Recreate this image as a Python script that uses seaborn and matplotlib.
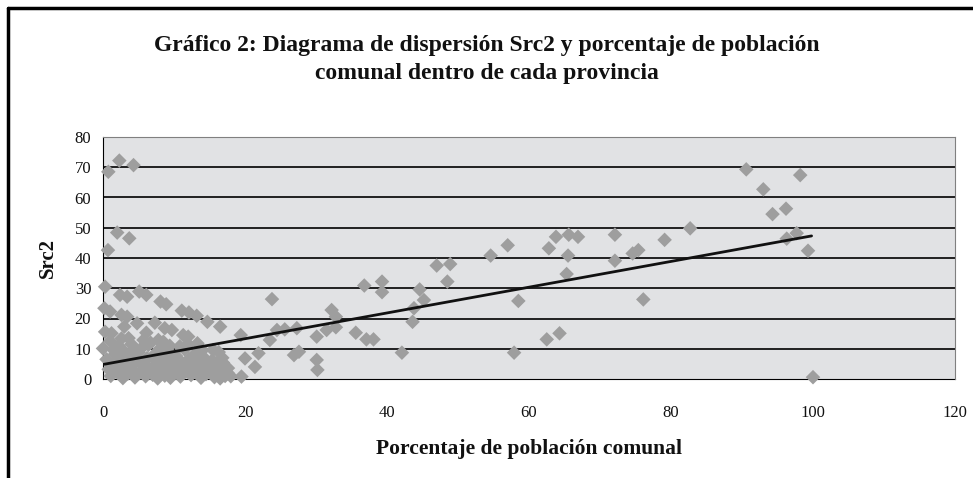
import pandas as pd
import seaborn as sns
import matplotlib.pyplot as plt
from matplotlib.lines import Line2D

# Porcentaje de poblacion comunal (x) y Src2 (y)
pct_comunal = [
    0.75, 2.3, 4.3, 0.7, 2.0, 3.7,
    0.3, 2.4, 3.4, 5.1, 6.1, 8.1, 8.9,
    0.2, 1.0, 2.6, 3.4, 11.1, 12.1, 13.2, 14.7, 16.5,
    23.8, 0.3, 1.2, 3.0, 2.6, 4.8, 7.3, 8.7, 9.7, 11.3, 12.0, 19.4,
    0.0, 1.5, 6.1, 5.7, 7.8, 8.5, 13.3, 15.5,
    20.0, 21.4, 21.9, 23.5, 24.5, 25.6, 27.3, 26.9, 27.6, 30.1, 30.1, 30.2, 31.5,
    19.5, 16.5, 17.6,
    32.2, 32.8, 32.8, 35.6, 36.8, 37.1, 38.1, 39.3, 39.3, 42.1, 43.6, 43.8, 44.6,
    45.2, 47.0, 48.9, 48.5, 54.6, 57.0, 57.9, 58.5, 62.8, 63.8, 62.5, 64.3, 65.6,
    66.9, 65.5, 65.3, 72.1, 72.1, 74.6, 75.4, 76.1, 79.1, 82.7, 90.6, 93.0, 94.3,
    96.2, 96.3, 97.7, 98.2, 99.3, 100.0,
    0.5, 0.8, 1.1, 1.4, 1.7, 2.0, 2.2, 2.5, 2.8, 3.0, 3.2, 3.5, 3.7, 4.0, 4.2,
    4.5, 4.7, 5.0, 5.2, 5.5, 5.7, 6.0, 6.2, 6.5, 6.7, 7.0, 7.2, 7.5, 7.7, 8.0,
    8.2, 8.5, 8.7, 9.0, 9.2, 9.5, 9.8, 10.0, 10.3, 10.6, 10.9, 11.2, 11.5, 11.8,
    12.1, 12.4, 12.7, 13.0, 13.3, 13.6, 13.9, 14.2, 14.5, 14.8, 15.1, 15.4, 15.7,
    16.0, 16.3, 16.6, 16.9, 17.2, 17.6, 18.0,
    1.0, 3.6, 6.4, 9.4, 12.0, 2.4, 5.9, 8.8, 4.3, 7.4, 10.8, 14.0, 16.8, 3.9,
    6.8, 11.0, 13.8,
]
src2 = [
    68.5, 72.2, 70.7, 42.6, 48.4, 46.5,
    30.5, 27.8, 27.2, 28.9, 27.8, 25.6, 24.7,
    23.4, 22.3, 21.2, 20.6, 22.6, 22.0, 20.9, 18.9, 17.3,
    26.4, 15.6, 15.1, 17.3, 13.4, 18.4, 18.6, 16.8, 16.2, 14.5, 14.0, 14.5,
    10.1, 9.6, 15.3, 12.9, 12.9, 12.3, 11.8, 9.6,
    6.8, 4.0, 8.5, 12.9, 16.2, 16.4, 16.8, 7.9, 9.0, 14.0, 6.3, 3.0, 16.2,
    0.8, 0.2, 1.9,
    22.8, 20.6, 17.1, 15.3, 30.9, 13.1, 13.1, 32.2, 28.7, 8.7, 18.9, 23.4, 29.6,
    26.1, 37.5, 38.0, 32.2, 40.8, 44.2, 8.7, 25.8, 43.2, 47.0, 13.1, 15.1, 47.7,
    47.0, 40.8, 34.7, 47.7, 39.1, 41.5, 42.6, 26.3, 46.0, 49.8, 69.3, 62.7, 54.5,
    56.3, 46.4, 48.2, 67.4, 42.4, 0.6,
    6.5, 3.2, 1.0, 5.0, 8.2, 2.5, 11.0, 6.0, 0.3, 9.0, 4.2, 1.8, 7.4, 11.5, 3.0,
    0.5, 5.8, 8.8, 2.2, 10.4, 4.6, 0.9, 6.9, 3.5, 12.0, 1.4, 8.0, 4.9, 0.2, 10.0,
    2.9, 6.3, 1.1, 4.0, 9.2, 0.4, 5.5, 2.0, 7.6, 3.8, 0.8, 5.2, 9.8, 2.6,
    6.6, 1.3, 4.4, 8.4, 2.0, 5.9, 3.3, 7.1, 1.6, 4.8, 2.8, 6.2, 0.6,
    3.9, 8.9, 2.3, 5.4, 1.0, 3.6, 0.9,
    12.5, 13.5, 11.3, 11.0, 11.5, 3.9, 2.1, 7.3, 9.9, 6.1, 10.8, 9.5, 7.0, 5.3,
    3.0, 1.8, 0.4,
]

# linea de tendencia (extremos)
trend_x = [0.0, 99.8]
trend_y = [4.8, 47.3]

x_ticks = [0, 20, 40, 60, 80, 100, 120]
y_ticks = [0, 10, 20, 30, 40, 50, 60, 70, 80]

df = pd.DataFrame({'pct': pct_comunal, 'src2': src2})

sns.set_style('white')
plt.rcParams['font.family'] = ['Liberation Serif', 'DejaVu Serif']
plt.rcParams['text.color'] = '#111111'
plt.rcParams['axes.labelcolor'] = '#111111'
plt.rcParams['xtick.color'] = '#111111'
plt.rcParams['ytick.color'] = '#111111'

fig = plt.figure(figsize=(9.73, 4.78), dpi=100)
ax = fig.add_axes([103/973, 1-379/478, (955-103)/973, (379-137)/478])
ax.set_facecolor('#e1e2e4')

for yv in y_ticks[1:]:
    ax.axhline(yv, color='black', lw=1.2, zorder=1)

sns.scatterplot(data=df, x='pct', y='src2', marker='D', s=55, color='#9e9e9e',
                edgecolor='none', ax=ax, zorder=3, clip_on=False)
sns.lineplot(x=trend_x, y=trend_y, color='#111111', lw=2, ax=ax, zorder=4)

ax.set_xlim(0, 120)
ax.set_ylim(0, 80)
ax.set_xticks(x_ticks)
ax.set_yticks(y_ticks)
ax.tick_params(axis='both', labelsize=12, length=5, width=1, color='black', direction='out')
ax.tick_params(axis='x', pad=14)
for s in ['top', 'right']:
    ax.spines[s].set_color('#808080')
ax.spines['left'].set_color('black')
ax.spines['bottom'].set_color('black')
ax.spines['bottom'].set_zorder(2)

ax.set_xlabel('Porcentaje de población comunal', fontsize=15.5, fontweight='bold', labelpad=13)
ax.set_ylabel('Src2', fontsize=15, fontweight='bold', labelpad=12)

fig.text(0.5, 1-46/478, 'Gráfico 2: Diagrama de dispersión Src2 y porcentaje de población',
         ha='center', va='center', fontsize=17, fontweight='bold')
fig.text(0.5, 1-74/478, 'comunal dentro de cada provincia',
         ha='center', va='center', fontsize=17, fontweight='bold')

# marco exterior
fig.add_artist(Line2D([8/973, 8/973], [0, 1-8/478], color='black', lw=2.5, transform=fig.transFigure))
fig.add_artist(Line2D([8/973, 1], [1-8/478, 1-8/478], color='black', lw=2.5, transform=fig.transFigure))

fig.savefig('out.png', dpi=100)
